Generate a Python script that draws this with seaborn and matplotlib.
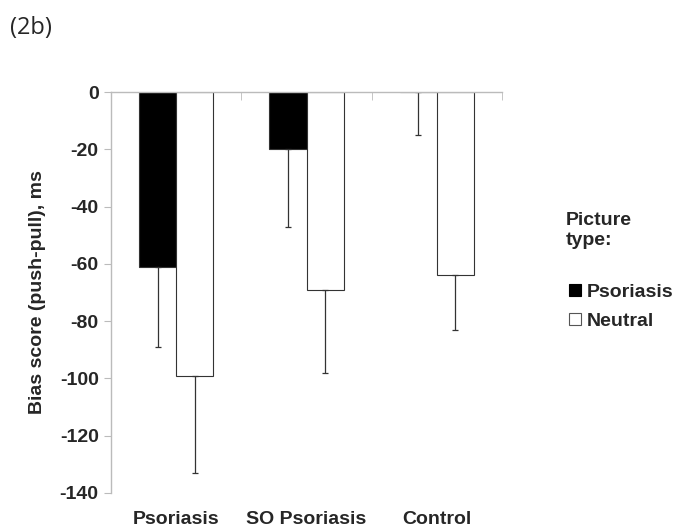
import numpy as np
import pandas as pd
import seaborn as sns
import matplotlib.pyplot as plt
from matplotlib.lines import Line2D

groups = ["Psoriasis", "SO Psoriasis", "Control"]
picture_types = ["Psoriasis", "Neutral"]
psoriasis_means = [-61, -20, 0]
neutral_means = [-99, -69, -64]
psoriasis_err = [28, 27, 15]
neutral_err = [34, 29, 19]

df = pd.DataFrame({
    "group": groups * 2,
    "type": [picture_types[0]] * 3 + [picture_types[1]] * 3,
    "score": psoriasis_means + neutral_means,
    "err": psoriasis_err + neutral_err,
})

sns.set_style("white")
plt.rcParams["font.family"] = ["Liberation Sans", "DejaVu Sans"]
plt.rcParams["axes.unicode_minus"] = False

fig = plt.figure(figsize=(6.82, 5.31), dpi=100)
ax = fig.add_axes([0.163, 0.0716, 0.573, 0.755])

sns.barplot(data=df, x="group", y="score", hue="type", order=groups,
            hue_order=picture_types, palette=["black", "white"],
            width=0.57, gap=0, edgecolor="#333333", linewidth=0.8,
            errorbar=None, legend=False, ax=ax)

# one-sided error bars, taken from the drawn bars
for bar, (_, row) in zip(ax.patches, df.iterrows()):
    x = bar.get_x() + bar.get_width() / 2
    ax.errorbar(x, row["score"], yerr=[[row["err"]], [0]], fmt="none",
                ecolor="#333333", elinewidth=0.9, capsize=2, capthick=0.9)

ax.set_ylim(-140, 0)
ax.set_xlim(-0.5, 2.5)
ax.set_yticks(np.arange(-140, 1, 20))
ax.set_xlabel("")
ax.set_ylabel("Bias score (push-pull), ms", fontsize=14, fontweight="bold",
              labelpad=10)

for s in ["right", "bottom"]:
    ax.spines[s].set_visible(False)
for s in ["left", "top"]:
    ax.spines[s].set_color("#bbbbbb")
    ax.spines[s].set_linewidth(1)

ax.set_xticks([-0.5, 0.5, 1.5, 2.5], minor=True)
ax.tick_params(axis="x", which="major", length=0, pad=13)
ax.tick_params(axis="x", which="minor", top=True, bottom=False,
               direction="in", length=6, color="#bbbbbb")
ax.tick_params(axis="y", left=True, direction="out", length=5,
               color="#bbbbbb", pad=4)
for lbl in ax.get_xticklabels() + ax.get_yticklabels():
    lbl.set_fontweight("bold")
    lbl.set_fontsize(14)

fig.text(0.014, 0.947, "(2b)", fontsize=17, va="center",
         family=["Open Sans", "DejaVu Sans"])
fig.text(0.83, 0.566, "Picture\ntype:", fontsize=14, fontweight="bold",
         va="center", ha="left", linespacing=1.25)

handles = [
    Line2D([], [], marker="s", ls="none", markersize=8, markerfacecolor="black",
           markeredgecolor="black", markeredgewidth=0.8),
    Line2D([], [], marker="s", ls="none", markersize=8, markerfacecolor="white",
           markeredgecolor="#555555", markeredgewidth=0.8),
]
leg = fig.legend(handles, picture_types, loc="center left",
                 bbox_to_anchor=(0.806, 0.423), frameon=False,
                 handletextpad=0.2, handlelength=0.8, labelspacing=0.6,
                 prop={"weight": "bold", "size": 14})

fig.savefig("out.png", dpi=100)
